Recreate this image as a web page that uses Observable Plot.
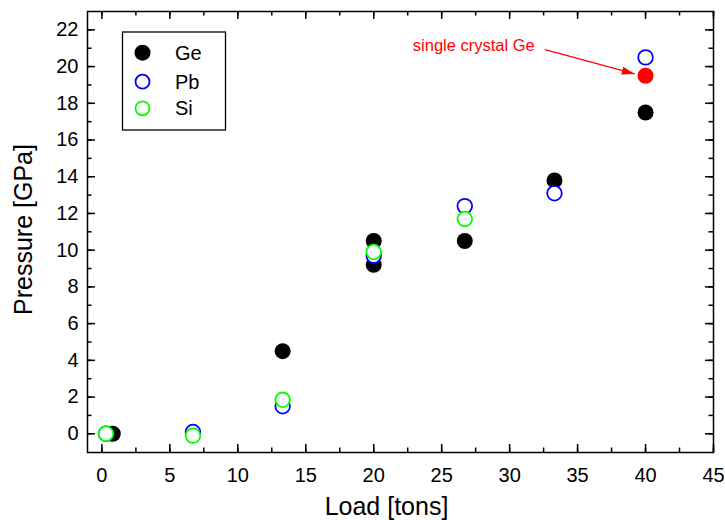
<!DOCTYPE html>
<html><head><meta charset="utf-8">
<script src="https://cdn.jsdelivr.net/npm/d3@7"></script>
<script src="https://cdn.jsdelivr.net/npm/@observablehq/plot@0.6"></script>
<style>
body{margin:0;background:#fff;}
#chart{position:relative;width:725px;height:520px;}
svg{font-family:"Liberation Sans",Arial,Helvetica,sans-serif;}
</style>
</head><body><div id="chart"></div>
<script>
// ---- data ----
const geLoad = [0.8, 13.3, 20, 20, 26.7, 33.3, 40];
const gePressure = [0, 4.5, 10.5, 9.2, 10.5, 13.8, 17.5];
const pbLoad = [0.3, 6.7, 13.3, 20, 26.7, 33.3, 40];
const pbPressure = [0, 0.1, 1.5, 9.7, 12.4, 13.1, 20.5];
const siLoad = [0.3, 6.7, 13.3, 20, 26.7];
const siPressure = [0, -0.1, 1.85, 9.9, 11.7];
const singleCrystalLoad = [40];
const singleCrystalPressure = [19.5];
const seriesNames = ["Ge", "Pb", "Si"];
const annotationText = ["single crystal Ge"];
const annotationLoad = [31.85, 32.6, 39.2];      // text end, arrow start, arrow tip
const annotationPressure = [21.14, 20.92, 19.6];
const xTickLabels = [0, 5, 10, 15, 20, 25, 30, 35, 40, 45];
const yTickLabels = [0, 2, 4, 6, 8, 10, 12, 14, 16, 18, 20, 22];

const toRows = (xs, ys) => xs.map((x, i) => ({x, y: ys[i]}));
const ge = toRows(geLoad, gePressure);
const pb = toRows(pbLoad, pbPressure);
const si = toRows(siLoad, siPressure);
const single = toRows(singleCrystalLoad, singleCrystalPressure);

const W = 725, H = 520, mL = 87, mR = 12, mT = 11, mB = 68;
const fw = W - mL - mR, fh = H - mT - mB;
const xMinor = d3.range(0, 45.01, 2.5);
const yMinor = d3.range(0, 22.01, 1);
const MAJ = 8, MIN = 4.5;

function filledArrow(color) {
  const ns = "http://www.w3.org/2000/svg";
  const m = document.createElementNS(ns, "marker");
  m.setAttribute("viewBox", "0 -4 13 8");
  m.setAttribute("markerWidth", 13);
  m.setAttribute("markerHeight", 8);
  m.setAttribute("refX", 13);
  m.setAttribute("refY", 0);
  m.setAttribute("orient", "auto");
  m.setAttribute("markerUnits", "userSpaceOnUse");
  const p = document.createElementNS(ns, "path");
  p.setAttribute("d", "M0,-4L13,0L0,4Z");
  p.setAttribute("fill", color);
  p.setAttribute("stroke", "none");
  m.appendChild(p);
  return m;
}

const tickStyle = {stroke: "black", strokeWidth: 1.5};
const plot = Plot.plot({
  width: W, height: H,
  marginLeft: mL, marginRight: mR, marginTop: mT, marginBottom: mB,
  x: {domain: [-1.06, 45]},
  y: {domain: [-1.02, 23]},
  marks: [
    // inward ticks on all four sides
    Plot.tickX(xMinor, {x: d => d, ...tickStyle, insetTop: fh - MIN}),
    Plot.tickX(xTickLabels, {x: d => d, ...tickStyle, insetTop: fh - MAJ}),
    Plot.tickX(xMinor, {x: d => d, ...tickStyle, insetBottom: fh - MIN}),
    Plot.tickX(xTickLabels, {x: d => d, ...tickStyle, insetBottom: fh - MAJ}),
    Plot.tickY(yMinor, {y: d => d, ...tickStyle, insetRight: fw - MIN}),
    Plot.tickY(yTickLabels, {y: d => d, ...tickStyle, insetRight: fw - MAJ}),
    Plot.tickY(yMinor, {y: d => d, ...tickStyle, insetLeft: fw - MIN}),
    Plot.tickY(yTickLabels, {y: d => d, ...tickStyle, insetLeft: fw - MAJ}),
    Plot.axisX({ticks: xTickLabels, tickSize: 0, tickPadding: 15, fontSize: 20, label: null, tickFormat: d => String(d)}),
    Plot.axisY({ticks: yTickLabels, tickSize: 0, tickPadding: 9, fontSize: 20, label: null, tickFormat: d => String(d)}),
    Plot.frame({stroke: "black", strokeWidth: 1.5}),
    // axis titles
    Plot.text(["Load [tons]"], {frameAnchor: "bottom", dy: 54, dx: -14, fontSize: 25, fill: "black", lineAnchor: "middle"}),
    Plot.text(["Pressure [GPa]"], {frameAnchor: "left", dx: -64, dy: -2.5, rotate: -90, fontSize: 25, fill: "black", lineAnchor: "middle", textAnchor: "middle"}),
    // data
    Plot.dot(ge, {x: "x", y: "y", r: 8, fill: "black", stroke: "none"}),
    Plot.dot(pb, {x: "x", y: "y", r: 7.3, fill: "white", stroke: "#0000ff", strokeWidth: 1.8}),
    Plot.dot(si, {x: "x", y: "y", r: 7.3, fill: "white", stroke: "#00ff00", strokeWidth: 1.8}),
    Plot.dot(single, {x: "x", y: "y", r: 8, fill: "#ff0000", stroke: "none"}),
    // annotation
    Plot.text(annotationText, {x: () => annotationLoad[0], y: () => annotationPressure[0], text: d => d, textAnchor: "end", fill: "#ff0000", fontSize: 16.5}),
    Plot.link([0], {x1: () => annotationLoad[1], y1: () => annotationPressure[1], x2: () => annotationLoad[2], y2: () => annotationPressure[2], stroke: "#ff0000", strokeWidth: 1.2, markerEnd: filledArrow})
  ]
});
document.getElementById("chart").appendChild(plot);

// legend box (pixel layout inside the frame)
const svg = d3.select(plot);
const lg = svg.append("g").attr("transform", "translate(122.5,32)").attr("text-anchor", "start");
lg.append("rect").attr("width", 103).attr("height", 98).attr("fill", "white").attr("stroke", "black").attr("stroke-width", 1.3);
const legendStyles = [
  {fill: "black", stroke: "none", r: 8},
  {fill: "white", stroke: "#0000ff", r: 7},
  {fill: "white", stroke: "#00ff00", r: 7}
];
const rowY = [20.7, 49.7, 76.3];
seriesNames.forEach((name, i) => {
  const s = legendStyles[i];
  lg.append("circle").attr("cx", 20).attr("cy", rowY[i]).attr("r", s.r).attr("fill", s.fill).attr("stroke", s.stroke).attr("stroke-width", 1.8);
  lg.append("text").attr("x", 52.5).attr("y", rowY[i]).attr("dy", "0.35em").attr("font-size", 20).attr("text-anchor", "start").attr("fill", "black").text(name);
});
</script>
</body></html>
